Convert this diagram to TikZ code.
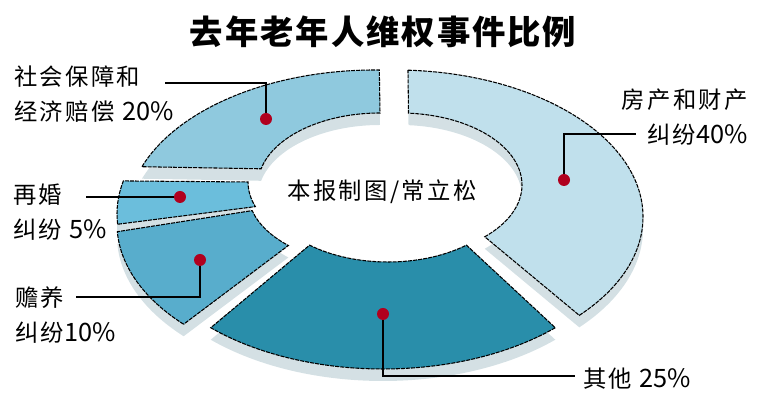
\documentclass[tikz,border=0pt]{standalone}
\usepackage{fontspec}
\newfontfamily\cjk[LetterSpace=10]{Noto Sans CJK SC}
\newfontfamily\cjknum{Noto Sans CJK SC}
\newfontfamily\cjktitle[LetterSpace=6]{Noto Sans CJK SC}

\definecolor{partquarante}{HTML}{C0E0EC}
\definecolor{partvingt}{HTML}{8FC9DE}
\definecolor{partcinq}{HTML}{6BBEDC}
\definecolor{partdix}{HTML}{58ADCC}
\definecolor{partautre}{HTML}{298EAA}
\definecolor{cote}{HTML}{D4E0E4}
\definecolor{rougepoint}{HTML}{B0001E}

\tikzset{
  seg/.style={draw=black,line width=0.8pt,dash pattern=on 3pt off 0.8pt},
  side/.style={fill=cote},
  dot/.style={circle,fill=rougepoint,inner sep=0pt,minimum size=9pt},
  leader/.style={line width=1pt},
  lab/.style={font=\cjk\fontsize{17.5}{26.25}\selectfont,inner sep=0pt}
}

% one part of the ring: outer centre, outer angles, inner centre, inner angles, colour
\newcommand\segment[9]{%
  \fill[side,yshift=-9pt] ({#1+\rxo*cos(#3)},{#2+\ryo*sin(#3)}) arc[start angle=#3,end angle=#4,x radius=\rxo,y radius=\ryo]
     -- ({#5+\rxi*cos(#7)},{#6+\ryi*sin(#7)}) arc[start angle=#7,end angle=#8,x radius=\rxi,y radius=\ryi] -- cycle;
  \filldraw[seg,fill=#9] ({#1+\rxo*cos(#3)},{#2+\ryo*sin(#3)}) arc[start angle=#3,end angle=#4,x radius=\rxo,y radius=\ryo]
     -- ({#5+\rxi*cos(#7)},{#6+\ryi*sin(#7)}) arc[start angle=#7,end angle=#8,x radius=\rxi,y radius=\ryi] -- cycle;
}
\newcommand\nb[1]{{\cjknum\fontsize{19}{26.25}\selectfont #1}}

\begin{document}
\begin{tikzpicture}[x=0.75pt,y=0.75pt]
\useasboundingbox (0,0) rectangle (761,416);
\pgfmathsetmacro{\rxo}{248}%
\pgfmathsetmacro{\ryo}{147}%
\pgfmathsetmacro{\rxi}{122}%
\pgfmathsetmacro{\ryi}{72}%

    %titre
    \node[font=\cjktitle\fontsize{25}{30}\selectfont\bfseries,inner sep=0pt] (titre) at (383,384) {去年老年人维权事件比例};

    %parts du haut
    \segment{375}{199}{160}{89}{380}{231}{90}{167}{partvingt}
    \segment{395}{199}{87}{-42}{400}{231}{-46}{86}{partquarante}

    %parts du bas
    \segment{365}{202}{184}{167}{370}{234}{180}{200}{partcinq}
    \segment{365}{192}{-137}{-177}{370}{224}{-165}{-132}{partdix}
    \segment{383}{194}{-46}{-134}{388}{226}{-130}{-50}{partautre}

    %credit
    \node[lab] (credit) at (382,224) {本报制图/常立松};

    %20%
    \node[dot] (d20) at (266,297) {};
    \coordinate (e20) at (165,333);
    \draw[leader] (d20) |- (e20);
    \node[lab,anchor=west,align=left] (l20) at (14,321.5) {社会保障和\\经济赔偿 \nb{20\%}};

    %5%
    \node[dot] (d5) at (180,219) {};
    \coordinate (e5) at (86,219);
    \draw[leader] (d5) -- (e5);
    \node[lab,anchor=west,align=left] (l5) at (13,203.5) {再婚\\纠纷 \nb{5\%}};

    %10%
    \node[dot] (d10) at (200,156) {};
    \coordinate (e10) at (76,119);
    \draw[leader] (d10) |- (e10);
    \node[lab,anchor=west,align=left] (l10) at (15,100.5) {赡养\\纠纷\nb{10\%}};

    %25%
    \node[dot] (d25) at (383,102) {};
    \coordinate (e25) at (575,40);
    \draw[leader] (d25) |- (e25);
    \node[lab,anchor=west] (l25) at (583,37) {其他 \nb{25\%}};

    %40%
    \node[dot] (d40) at (564,236) {};
    \coordinate (e40) at (636,282);
    \draw[leader] (d40) |- (e40);
    \node[lab,anchor=east,align=right] (l40) at (748,298.5) {房产和财产\\纠纷\nb{40\%}};
\end{tikzpicture}
\end{document}
